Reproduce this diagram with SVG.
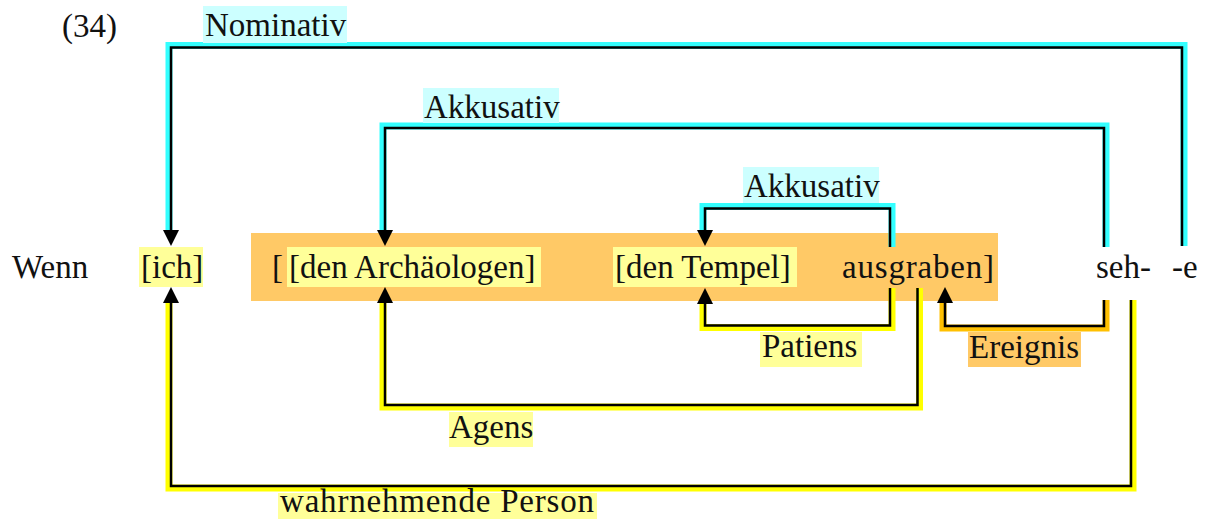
<svg xmlns="http://www.w3.org/2000/svg" width="1205" height="519" viewBox="0 0 1205 519">
<defs>
<style>
text{font-family:"Liberation Serif","Times New Roman",serif;font-size:33px;fill:#111}
.hly{fill:#FFFF99}
.hlc{fill:#CCFFFF}
.hlo{fill:#FFC966}
.k{fill:none;stroke:#000;stroke-width:2.5}
.c{fill:none;stroke:#33FFFF;stroke-width:7}
.y{fill:none;stroke:#FFFF00;stroke-width:7}
.o{fill:none;stroke:#FFC000;stroke-width:7}
</style>
<marker id="ah" markerUnits="userSpaceOnUse" markerWidth="16" markerHeight="16" refX="0" refY="8" orient="auto" viewBox="0 0 16 16">
<path d="M0,0 L16,8 L0,16 z" fill="#000"/>
</marker>
</defs>
<rect width="1205" height="519" fill="#fff"/>
<g id="number"><text x="62" y="37">(34)</text></g>
<g id="phrase-bracket"><rect class="hlo" x="251" y="233" width="747" height="68"/></g>
<g id="wenn"><text x="12" y="278">Wenn</text></g>
<g id="ich"><rect class="hly" x="139" y="247" width="64" height="40"/><text x="141" y="278">[ich]</text></g>
<g id="bracket-open"><text x="272" y="278">[</text></g>
<g id="archaeologen"><rect class="hly" x="287" y="247" width="254" height="40"/><text x="289" y="278">[den Archäologen]</text></g>
<g id="tempel"><rect class="hly" x="613" y="247" width="184" height="40"/><text x="615" y="278">[den Tempel]</text></g>
<g id="ausgraben"><text x="842" y="278" textLength="152" lengthAdjust="spacing">ausgraben]</text></g>
<g id="seh"><text x="1096" y="278">seh-</text></g>
<g id="e"><text x="1172" y="278">-e</text></g>
<g id="connectors">
<path class="c" d="M1184,246 V45.5 H169 V232"/>
<path class="k" d="M1182,246 V47.5 H171 V230" marker-end="url(#ah)"/>
<path class="c" d="M1106,247 V126 H383 V232"/>
<path class="k" d="M1104,247 V128 H385 V230" marker-end="url(#ah)"/>
<path class="c" d="M892,247 V206.5 H703 V232"/>
<path class="k" d="M890,247 V208.5 H705 V230" marker-end="url(#ah)"/>
<path class="y" d="M892,288 V327.5 H703 V303"/>
<path class="k" d="M890,288 V325.5 H705 V304" marker-end="url(#ah)"/>
<path class="y" d="M919.5,288 V407 H383 V302"/>
<path class="k" d="M917.5,288 V405 H385 V303" marker-end="url(#ah)"/>
<path class="o" d="M1106,300 V328 H943 V302"/>
<path class="k" d="M1104,300 V326 H945 V303" marker-end="url(#ah)"/>
<path class="y" d="M1133,300 V488 H169 V302"/>
<path class="k" d="M1131,300 V486 H171 V303" marker-end="url(#ah)"/>
</g>
<g id="lbl-nominativ"><rect class="hlc" x="203" y="6" width="144" height="37"/><text x="205" y="36">Nominativ</text></g>
<g id="lbl-akkusativ-1"><rect class="hlc" x="423" y="88" width="136" height="35"/><text x="424" y="118">Akkusativ</text></g>
<g id="lbl-akkusativ-2"><rect class="hlc" x="743" y="167" width="136" height="36"/><text x="744" y="197">Akkusativ</text></g>
<g id="lbl-patiens"><rect class="hly" x="760" y="332" width="102" height="35"/><text x="762" y="357">Patiens</text></g>
<g id="lbl-ereignis"><rect class="hlo" x="968" y="332" width="113" height="35"/><text x="969" y="358">Ereignis</text></g>
<g id="lbl-agens"><rect class="hly" x="449" y="412" width="84" height="35"/><text x="449" y="438">Agens</text></g>
<g id="lbl-person"><rect class="hly" x="278" y="493" width="319" height="26"/><text x="280" y="512" textLength="314" lengthAdjust="spacing">wahrnehmende Person</text></g>
</svg>
